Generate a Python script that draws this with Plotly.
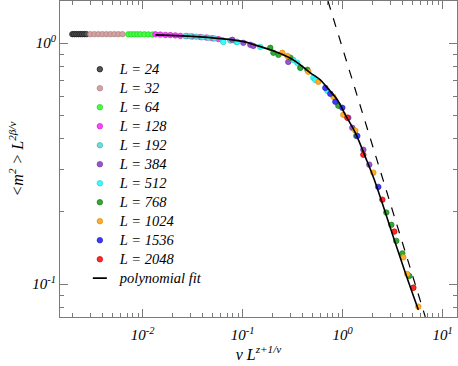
import plotly.graph_objects as go

# ---- data (x = v L^(z+1/nu), y = <m^2> L^(2beta/nu)) ----
sizes = ["24", "32", "64", "128", "192", "384", "512", "768", "1024", "1536", "2048"]

x_24 = [0.00198, 0.00207, 0.00217, 0.00228, 0.00238, 0.00249, 0.00261, 0.00274]
y_24 = [1.09, 1.09, 1.09, 1.09, 1.09, 1.09, 1.09, 1.09]

x_32 = [0.0030, 0.00329, 0.00361, 0.00395, 0.00434, 0.00475, 0.00521, 0.00571, 0.00627]
y_32 = [1.09, 1.09, 1.09, 1.09, 1.09, 1.09, 1.09, 1.09, 1.09]

x_64 = [0.00719, 0.00771, 0.00826, 0.00885, 0.00948, 0.0104, 0.0114, 0.0125]
y_64 = [1.088, 1.088, 1.088, 1.088, 1.088, 1.088, 1.087, 1.086]

x_128 = [0.0134, 0.0150, 0.0169, 0.0189, 0.0212, 0.0238, 0.0274, 0.0314, 0.0378, 0.0434, 0.0498, 0.0572]
y_128 = [1.088, 1.085, 1.082, 1.080, 1.077, 1.072, 1.070, 1.065, 1.060, 1.055, 1.048, 1.040]

x_192 = [0.0267, 0.0300, 0.0344, 0.0395, 0.0454, 0.0521, 0.0627, 0.0753, 0.0865]
y_192 = [1.070, 1.068, 1.064, 1.058, 1.052, 1.046, 1.030, 1.025, 1.012]

x_384 = [0.0789, 0.1016, 0.1194, 0.128, 0.286, 1.14, 1.25, 1.611, 1.849]
y_384 = [1.032, 1.003, 0.984, 0.974, 0.836, 0.490, 0.445, 0.361, 0.313]

x_512 = [0.0641, 0.0885, 0.150, 0.321, 0.352, 0.378, 0.509, 0.533, 0.703]
y_512 = [1.012, 1.012, 0.965, 0.852, 0.828, 0.790, 0.718, 0.704, 0.634]

x_768 = [0.189, 0.203, 0.228, 0.300, 0.378, 0.444, 0.906, 1.371, 2.735, 3.069, 3.443, 3.954, 4.645]
y_768 = [0.956, 0.912, 0.894, 0.870, 0.790, 0.775, 0.550, 0.412, 0.198, 0.176, 0.151, 0.134, 0.108]

x_1024 = [0.249, 0.280, 0.454, 0.571, 0.807, 1.016, 1.340, 2.028, 4.046, 4.436, 5.093, 5.715]
y_1024 = [0.912, 0.885, 0.760, 0.691, 0.599, 0.504, 0.433, 0.290, 0.129, 0.110, 0.0965, 0.0805]

x_1536 = [0.671, 0.753, 0.845, 0.993, 1.403, 2.275]
y_1536 = [0.652, 0.616, 0.571, 0.539, 0.412, 0.253]

x_2048 = [1.114, 1.611, 2.495, 3.289, 5.093]
y_2048 = [0.490, 0.344, 0.224, 0.165, 0.0965]

# polynomial fit
fit_x = [0.0134, 0.0378, 0.0993, 0.137, 0.189, 0.240, 0.300, 0.378, 0.475, 0.598, 0.703, 0.885,
         1.064, 1.34, 1.687, 2.075, 2.673, 3.365, 4.236, 5.715]
fit_y = [1.082, 1.062, 1.017, 0.979, 0.938, 0.903, 0.865, 0.813, 0.753, 0.704, 0.652, 0.582,
         0.504, 0.424, 0.337, 0.271, 0.198, 0.148, 0.1114, 0.0782]

# dashed asymptote, end points
asym_x = [0.714, 6.71]
asym_y = [1.496, 0.073]

series_x = [x_24, x_32, x_64, x_128, x_192, x_384, x_512, x_768, x_1024, x_1536, x_2048]
series_y = [y_24, y_32, y_64, y_128, y_192, y_384, y_512, y_768, y_1024, y_1536, y_2048]

fills = ["#555555", "#d2a3a3", "#44ff44", "#ff44ff", "#6fdada", "#9a55cc",
         "#33ffff", "#33a833", "#ffad2a", "#3a3aff", "#ff2a2a"]
edges = ["#111111", "#b07f7f", "#22cc22", "#cc22cc", "#3fb3b3", "#7033a8",
         "#22cccc", "#1f7a1f", "#dd8a00", "#2222bb", "#cc0000"]

# legend rows are spaced by the legend font size; draw the text a bit larger inside
big = "<span style='font-size:14.5px'>{}</span>"

fig = go.Figure()

fig.add_trace(go.Scatter(x=asym_x, y=asym_y, mode="lines", showlegend=False,
                         line=dict(color="black", width=1.2, dash="dash")))

for L, xs, ys, fc, ec in zip(sizes, series_x, series_y, fills, edges):
    fig.add_trace(go.Scatter(
        x=xs, y=ys, mode="markers", name=big.format(f"L = {L}"),
        marker=dict(symbol="circle", size=5.5, color=fc, line=dict(color=ec, width=0.7)),
    ))

fig.add_trace(go.Scatter(x=fit_x, y=fit_y, mode="lines", showlegend=False,
                         line=dict(color="black", width=1.6, shape="spline")))
# legend entry for the fit (short dash symbol)
fig.add_trace(go.Scatter(x=[None], y=[None], mode="markers", name=big.format("polynomial fit"),
                         marker=dict(symbol="line-ew", size=10,
                                     line=dict(color="black", width=1.8))))

gray = "#7a7a7a"
serif = "Liberation Serif"
minor_x = [m * 10 ** e for e in range(-3, 2) for m in range(2, 10)]
minor_y = [m * 10 ** e for e in range(-2, 1) for m in range(2, 10)]

fig.update_xaxes(
    type="log", range=[-2.827, 1.144], automargin=False,
    showline=True, linecolor=gray, linewidth=1.2, mirror="ticks",
    ticks="inside", ticklen=8, tickcolor=gray, tickwidth=1,
    tickmode="array", tickvals=[0.01, 0.1, 1, 10],
    ticktext=["10<sup>-2</sup>", "10<sup>-1</sup>", "10<sup>0</sup>", "10<sup>1</sup>"],
    tickfont=dict(family=serif, size=15, style="italic", color="black"),
    ticklabelstandoff=4,
    minor=dict(tickmode="array", tickvals=minor_x, ticks="inside", ticklen=4,
               tickcolor=gray, showgrid=False),
    showgrid=False, zeroline=False,
    title=dict(text="v L<sup>z+1/ν</sup>", standoff=4,
               font=dict(family=serif, size=16, style="italic", color="black")),
)
fig.update_yaxes(
    type="log", range=[-1.137, 0.175], automargin=False,
    showline=True, linecolor=gray, linewidth=1.2, mirror="ticks",
    ticks="inside", ticklen=8, tickcolor=gray, tickwidth=1,
    tickmode="array", tickvals=[0.1, 1],
    ticktext=["10<sup>-1</sup>", "10<sup>0</sup>"],
    tickfont=dict(family=serif, size=15, style="italic", color="black"),
    minor=dict(tickmode="array", tickvals=minor_y, ticks="inside", ticklen=4,
               tickcolor=gray, showgrid=False),
    showgrid=False, zeroline=False,
    title=dict(text="&lt;m<sup>2</sup> &gt; L<sup>2β/ν</sup>", standoff=4,
               font=dict(family=serif, size=16, style="italic", color="black")),
)

fig.update_layout(
    width=458, height=366,
    margin=dict(l=60, r=1, t=1, b=49),
    paper_bgcolor="white", plot_bgcolor="white",
    legend=dict(x=0.05, y=0.83, xanchor="left", yanchor="top",
                bgcolor="rgba(0,0,0,0)", borderwidth=0,
                font=dict(family=serif, size=11.7, style="italic", color="black"),
                tracegroupgap=0),
)

# the page's default body margin would shift the figure by 8px
fig.write_html("out.html", config={"displayModeBar": False},
               post_script="document.body.style.margin='0px';")
